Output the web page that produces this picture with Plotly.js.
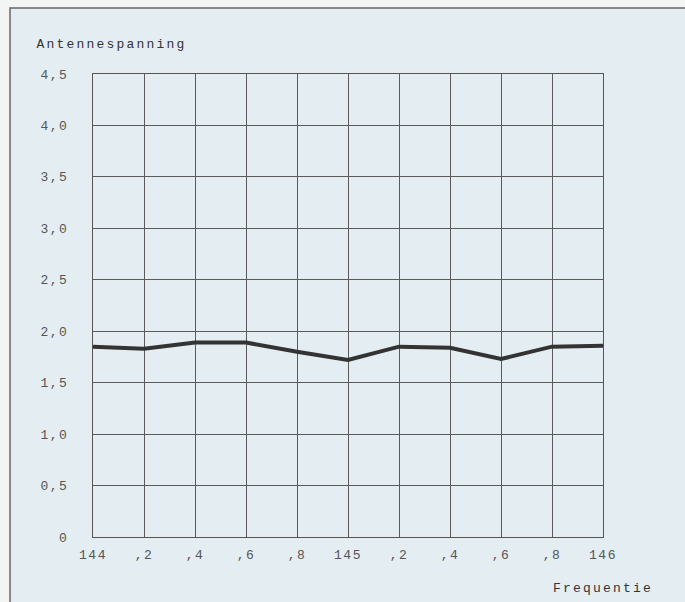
<!DOCTYPE html>
<html>
<head>
<meta charset="utf-8">
<script src="https://cdn.plot.ly/plotly-3.0.1.min.js"></script>
<style>
html,body{margin:0;padding:0;background:#f3f5f5;}
#chart{width:685px;height:602px;}
#chart .xtick text, #chart .ytick text { letter-spacing: 1.5px; }
#chart .annotation-text { letter-spacing: 2.2px; }
</style>
</head>
<body>
<div id="chart"></div>
<script>
const frequencies = [144.0, 144.2, 144.4, 144.6, 144.8, 145.0, 145.2, 145.4, 145.6, 145.8, 146.0];
const voltage = [1.85, 1.83, 1.89, 1.89, 1.80, 1.72, 1.85, 1.84, 1.73, 1.85, 1.86];
const xTickVals = [144.0, 144.2, 144.4, 144.6, 144.8, 145.0, 145.2, 145.4, 145.6, 145.8, 146.0];
const xTickText = ['144', ',2', ',4', ',6', ',8', '145', ',2', ',4', ',6', ',8', '146'];
const yTickVals = [0, 0.5, 1.0, 1.5, 2.0, 2.5, 3.0, 3.5, 4.0, 4.5];
const yTickText = ['0', '0,5', '1,0', '1,5', '2,0', '2,5', '3,0', '3,5', '4,0', '4,5'];
const yTitle = 'Antennespanning';
const xTitle = 'Frequentie';

const W = 685, H = 602, L = 93, R = 82, T = 74, B = 65;
const pw = W - L - R, ph = H - T - B;
const px = v => (v - L) / pw;
const py = v => (H - B - v) / ph;

const fam = '"Liberation Mono", "DejaVu Sans Mono", monospace';
const tickFont = {family: fam, size: 13, color: '#555'};
const titleFont = {family: fam, size: 13, color: '#333'};

Plotly.newPlot('chart', [{
  x: frequencies, y: voltage, type: 'scatter', mode: 'lines',
  line: {color: '#333', width: 4}, hoverinfo: 'skip'
}], {
  width: W, height: H,
  margin: {l: L, r: R, t: T, b: B, pad: 0},
  paper_bgcolor: '#f3f5f5',
  plot_bgcolor: 'rgba(0,0,0,0)',
  showlegend: false,
  font: tickFont,
  xaxis: {
    range: [144, 146], tickvals: xTickVals, ticktext: xTickText,
    showgrid: true, gridcolor: '#5a5a5a', gridwidth: 1,
    showline: true, linecolor: '#555', linewidth: 1, mirror: true,
    zeroline: false, ticks: '', ticklabelstandoff: 5, tickfont: tickFont, fixedrange: true
  },
  yaxis: {
    range: [0, 4.5], tickvals: yTickVals, ticktext: yTickText,
    showgrid: true, gridcolor: '#5a5a5a', gridwidth: 1,
    showline: true, linecolor: '#555', linewidth: 1, mirror: true,
    zeroline: false, ticks: '', ticklabelstandoff: 21, tickfont: tickFont, fixedrange: true
  },
  shapes: [{
    type: 'rect', xref: 'paper', yref: 'paper', layer: 'below',
    x0: px(10), x1: px(700), y0: py(620), y1: py(8),
    fillcolor: '#e4edf1', line: {color: '#666', width: 1.5}
  }],
  annotations: [
    {text: yTitle, xref: 'paper', yref: 'paper', x: px(51), y: py(45), xanchor: 'left', yanchor: 'middle',
     showarrow: false, font: titleFont},
    {text: xTitle, xref: 'paper', yref: 'paper', x: px(644), y: py(588), xanchor: 'right', yanchor: 'middle',
     showarrow: false, font: titleFont}
  ]
}, {displayModeBar: false, staticPlot: true});
</script>
</body>
</html>
